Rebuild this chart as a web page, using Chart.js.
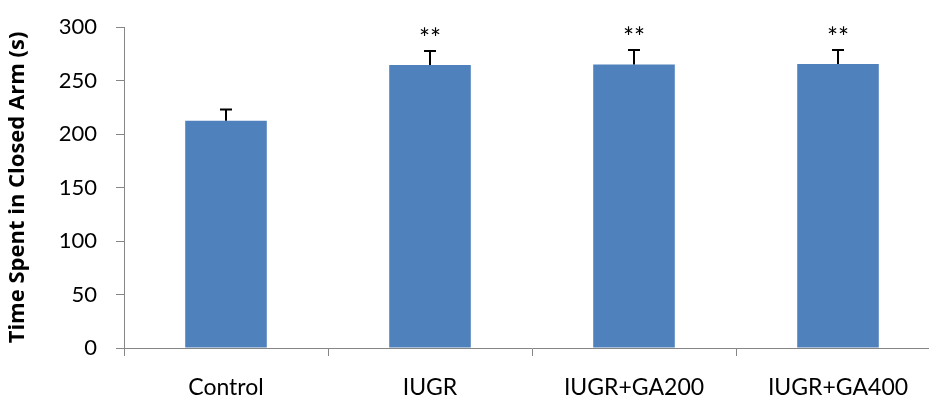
<!DOCTYPE html>
<html>
<head>
<meta charset="utf-8">
<script src="https://cdn.jsdelivr.net/npm/chart.js@4.4.1/dist/chart.umd.min.js"></script>
<style>
html,body{margin:0;padding:0;background:#fff;overflow:hidden;}
#wrap{width:945px;height:400px;position:relative;}
</style>
</head>
<body>
<div id="wrap"><canvas id="c" width="945" height="400"></canvas></div>
<script>
const categories = ["Control", "IUGR", "IUGR+GA200", "IUGR+GA400"];
const meanValues = [212.5, 264.5, 265, 265.5];
const errorValues = [10.5, 13, 13.5, 13];
const significance = ["", "**", "**", "**"];
const yTicks = [0, 50, 100, 150, 200, 250, 300];
const yTitle = "Time Spent in Closed Arm (s)";

const FONT = "Lato, 'Open Sans', sans-serif";

const errorPlugin = {
  id: 'errbars',
  afterDatasetsDraw(chart) {
    const ctx = chart.ctx;
    const meta = chart.getDatasetMeta(0);
    const y = chart.scales.y;
    ctx.save();
    meta.data.forEach((bar, i) => {
      const x = bar.x;
      const top = y.getPixelForValue(meanValues[i]);
      const cap = y.getPixelForValue(meanValues[i] + errorValues[i]);
      ctx.strokeStyle = '#000';
      ctx.lineWidth = 2;
      ctx.beginPath();
      ctx.moveTo(x, top);
      ctx.lineTo(x, cap);
      ctx.moveTo(x - 6, cap);
      ctx.lineTo(x + 6, cap);
      ctx.stroke();
      if (significance[i]) {
        ctx.fillStyle = '#000';
        ctx.font = "26px " + FONT;
        ctx.textAlign = 'center';
        ctx.textBaseline = 'alphabetic';
        ctx.fillText(significance[i], x, cap - 3);
      }
    });
    ctx.restore();
  }
};

new Chart(document.getElementById('c'), {
  type: 'bar',
  data: {
    labels: categories,
    datasets: [{
      data: meanValues,
      backgroundColor: '#4F81BD',
      borderWidth: 0,
      barPercentage: 0.4,
      categoryPercentage: 1.0
    }]
  },
  options: {
    responsive: false,
    animation: false,
    layout: { padding: { top: 27, right: 5, left: 0, bottom: 0 } },
    plugins: { legend: { display: false }, tooltip: { enabled: false } },
    scales: {
      x: {
        grid: { display: true, drawOnChartArea: false, drawTicks: true, tickLength: 8, color: '#868686', offset: true },
        border: { display: true, color: '#868686', width: 1 },
        ticks: { color: '#000', font: { family: FONT, size: 23 }, padding: 18, maxRotation: 0 },
        afterFit(s) { s.height = 52; }
      },
      y: {
        min: 0, max: 300,
        afterBuildTicks(s) { s.ticks = yTicks.map(v => ({ value: v })); },
        grid: { display: true, drawOnChartArea: false, drawTicks: true, tickLength: 8, color: '#868686' },
        border: { display: true, color: '#868686', width: 1 },
        ticks: { color: '#000', font: { family: FONT, size: 22 }, padding: 19 },
        title: { display: true, text: yTitle, color: '#000', font: { family: "'Open Sans', sans-serif", size: 22, weight: 'bold' }, padding: { top: 5, bottom: 0 } },
        afterFit(s) { s.width = 124; s.paddingTop = 5; s.paddingBottom = 5; }
      }
    }
  },
  plugins: [errorPlugin]
});
</script>
</body>
</html>
